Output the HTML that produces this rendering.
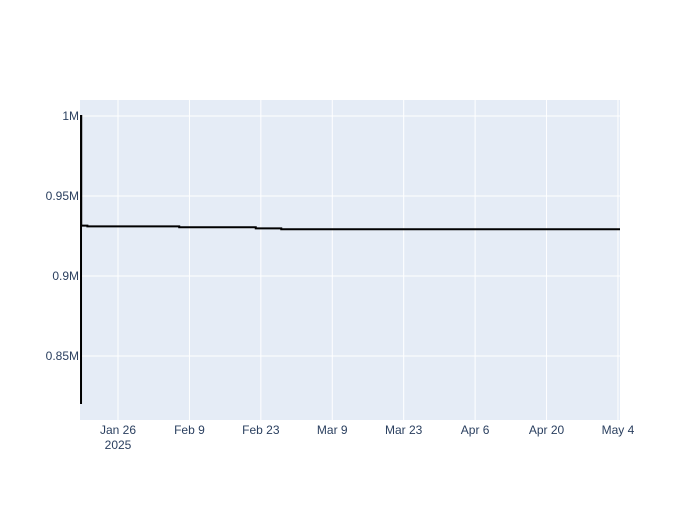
<!DOCTYPE html>
<html><head><meta charset="utf-8"><style>
body{margin:0;background:#fff;font-family:"Liberation Sans",Arial,sans-serif}
svg text{font-family:"Liberation Sans",Arial,sans-serif;font-size:12px;fill:#2a3f5f}
</style></head><body>
<svg id="chart" width="700" height="500" xmlns="http://www.w3.org/2000/svg">
<defs><clipPath id="clip"><rect x="80" y="100" width="540" height="320"/></clipPath></defs>
<rect x="0" y="0" width="700" height="500" fill="#fff"/>
<rect x="80" y="100" width="540" height="320" fill="#e5ecf6"/>
<g id="grid"></g><g id="ticks"></g><g id="series" clip-path="url(#clip)"></g>
</svg>
<script>
const dates = ["2025-01-18T18:00","2025-01-18T18:00","2025-01-18T19:00","2025-01-20T00:00","2025-02-07T00:00","2025-02-22T00:00","2025-02-27T00:00","2025-05-04T12:00"];
const values = [820000,1000000,931500,931000,930500,929800,929200,929200];
const yTicks = [850000,900000,950000,1000000];
const yTickLabels = ["0.85M","0.9M","0.95M","1M"];
const xTicks = ["2025-01-26","2025-02-09","2025-02-23","2025-03-09","2025-03-23","2025-04-06","2025-04-20","2025-05-04"];
const xTickLabels = ["Jan 26","Feb 9","Feb 23","Mar 9","Mar 23","Apr 6","Apr 20","May 4"];

const NS="http://www.w3.org/2000/svg";
const ref=Date.parse("2025-01-26T00:00:00Z");
function day(s){return (Date.parse(s+(s.length>10?":00Z":"T00:00:00Z"))-ref)/86400000;}
const x0=-7.45,x1=98.4;
function X(s){return 80+(day(s)-x0)/(x1-x0)*540;}
const y0=810000,y1=1010000;
function Y(v){return 420-(v-y0)/(y1-y0)*320;}
function mk(t,a,p){const e=document.createElementNS(NS,t);for(const k in a)e.setAttribute(k,a[k]);p.appendChild(e);return e;}
const grid=document.getElementById('grid'),ticks=document.getElementById('ticks'),ser=document.getElementById('series');
xTicks.forEach((d,i)=>{
  const x=X(d);
  const g=mk('line',{x1:x,x2:x,y1:100,y2:420,stroke:'#fff','stroke-width':1},grid);
  
  
  const t=mk('text',{x:x,y:434,'text-anchor':'middle'},ticks);
  t.textContent=xTickLabels[i];
  
  
});
const yr=mk('text',{x:X(xTicks[0]),y:449,'text-anchor':'middle'},ticks);
yr.textContent="2025";


yTicks.forEach((v,i)=>{
  const y=Y(v);
  const g=mk('line',{x1:80,x2:620,y1:y,y2:y,stroke:'#fff','stroke-width':1},grid);
  
  
  const t=mk('text',{x:79,y:y+4,'text-anchor':'end'},ticks);
  t.textContent=yTickLabels[i];
  
  
});
let d="M"+X(dates[0])+","+Y(values[0]);
for(let i=1;i<dates.length;i++){d+=" H"+X(dates[i])+" V"+Y(values[i]);}
const p=mk('path',{d:d,fill:'none',stroke:'#000','stroke-width':2},ser);


</script>
</body></html>
